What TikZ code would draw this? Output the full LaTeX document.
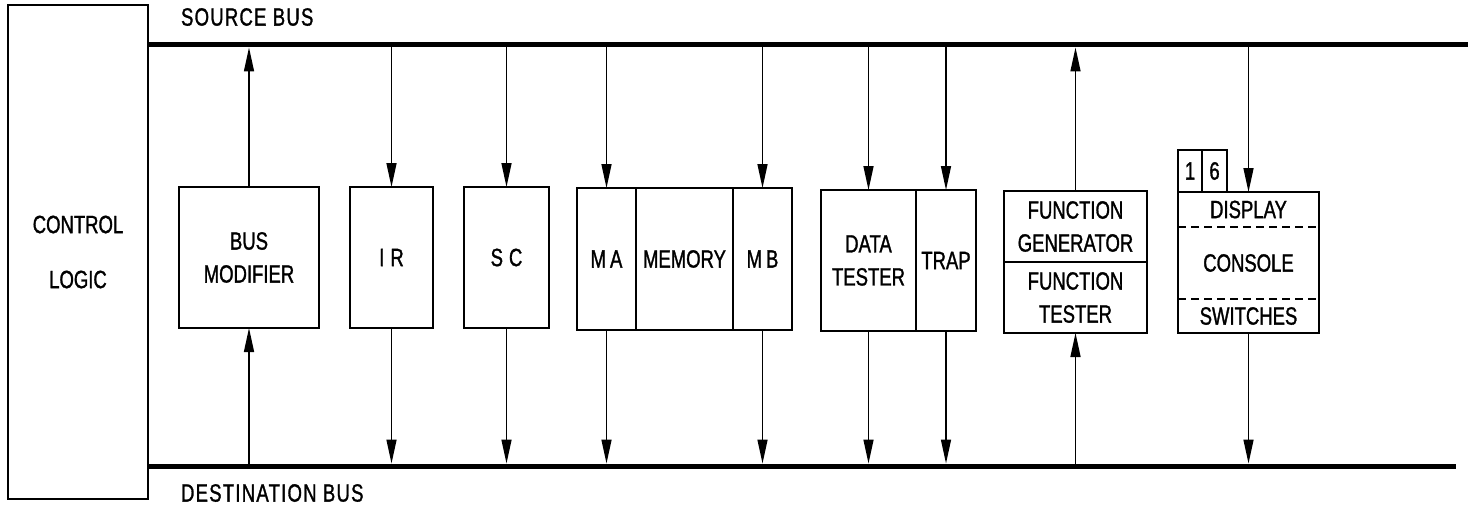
\documentclass[tikz,border=0pt]{standalone}
\usepackage{fontspec}
\setmainfont{Liberation Sans}[FakeStretch=0.74,FakeBold=1.2]
\newfontfamily\busfont{Liberation Sans}[FakeStretch=0.74,FakeBold=1.2,LetterSpace=5]
\usetikzlibrary{arrows.meta,positioning}

\tikzset{
  unit/.style = {draw, line width=1pt, inner sep=0pt, outer sep=0pt, align=center,
                 font=\fontsize{12.5}{16.5}\selectfont},
  part/.style = {inner sep=0pt, outer sep=0pt, align=center, font=\fontsize{12.5}{16.5}\selectfont},
  bus/.style  = {line width=2.5pt},
  link/.style = {line width=0.75pt, -{Triangle[length=12pt,width=5pt]}},
  tobus/.style = {link, shorten >=1.25pt},
  sep/.style  = {line width=0.8pt, dash pattern=on 4pt off 2.5pt}
}

\begin{document}
\begin{tikzpicture}[x=0.5pt,y=-0.5pt]
    \useasboundingbox (0,0) rectangle (1476,508);
    \coordinate (s0) at (148,45); \coordinate (s1) at (1468,45);
    \coordinate (d0) at (148,466); \coordinate (d1) at (1456,466);

    \node[unit, line width=0.8pt, minimum width=70pt, minimum height=247pt,
          font=\fontsize{12.5}{27.5}\selectfont] (ctl) at (78,252) {CONTROL\\LOGIC};
    \draw[bus] (s0) -- (s1);
    \draw[bus] (d0) -- (d1);
    \node[anchor=west, font=\busfont\fontsize{12.5}{14}\selectfont] (srclab) at (174,17) {SOURCE BUS};
    \node[anchor=west, font=\busfont\fontsize{12.5}{14}\selectfont] (dstlab) at (174,493) {DESTINATION BUS};

    \node[unit, minimum width=70pt, minimum height=70.5pt] (bm) at (249,257.5) {BUS\\MODIFIER};
    \node[unit, minimum width=41.5pt, minimum height=70.5pt] (ir) at (391.5,257.5) {I\kern3pt R};
    \node[unit, minimum width=42.5pt, minimum height=70.5pt] (sc) at (506.5,257.5) {S\kern3pt C};

    \node[unit, minimum width=29.5pt, minimum height=71pt] (ma) at (606.5,259) {M\kern2pt A};
    \node[unit, minimum width=48.5pt, minimum height=71pt, right=0pt of ma] (mem) {MEMORY};
    \node[unit, minimum width=29.5pt, minimum height=71pt, right=0pt of mem] (mb) {M\kern2pt B};

    \node[unit, minimum width=47.5pt, minimum height=70.5pt] (dt) at (868.5,260.5) {DATA\\TESTER};
    \node[unit, minimum width=30pt, minimum height=70.5pt, right=0pt of dt] (trap) {TRAP};

    \node[unit, minimum width=71.5pt, minimum height=35.5pt] (fg) at (1075.5,226.5) {FUNCTION\\GENERATOR};
    \node[unit, minimum width=71.5pt, minimum height=35.5pt, below=0pt of fg] (ft) {FUNCTION\\TESTER};

    \node[part, minimum width=70.5pt, minimum height=17.5pt] (disp) at (1248.5,209.5) {DISPLAY};
    \node[part, minimum width=70.5pt, minimum height=36pt, below=0pt of disp] (cons) {CONSOLE};
    \node[part, minimum width=70.5pt, minimum height=17pt, below=0pt of cons] (sw) {SWITCHES};
    \draw[line width=1pt] (disp.north west) rectangle (sw.south east);
    \draw[sep] (disp.south west) -- (disp.south east) (sw.north west) -- (sw.north east);
    \node[unit, minimum width=12pt, minimum height=21pt, anchor=south west] (one) at (disp.north west) {1};
    \node[unit, minimum width=12.5pt, minimum height=21pt, right=0pt of one] (six) {6};

    \draw[tobus] (bm.north) -- (bm.north |- s0);
    \draw[link] (bm.south |- d0) -- (bm.south);
    \foreach \u in {ir,sc,ma,mb,dt,trap}{
        \draw[link] (\u.north |- s0) -- (\u.north);
        \draw[tobus] (\u.south) -- (\u.south |- d0);
    }
    \draw[tobus] (fg.north) -- (fg.north |- s0);
    \draw[link] (ft.south |- d0) -- (ft.south);
    \draw[link] (disp.north |- s0) -- (disp.north);
    \draw[tobus] (sw.south) -- (sw.south |- d0);
\end{tikzpicture}
\end{document}
